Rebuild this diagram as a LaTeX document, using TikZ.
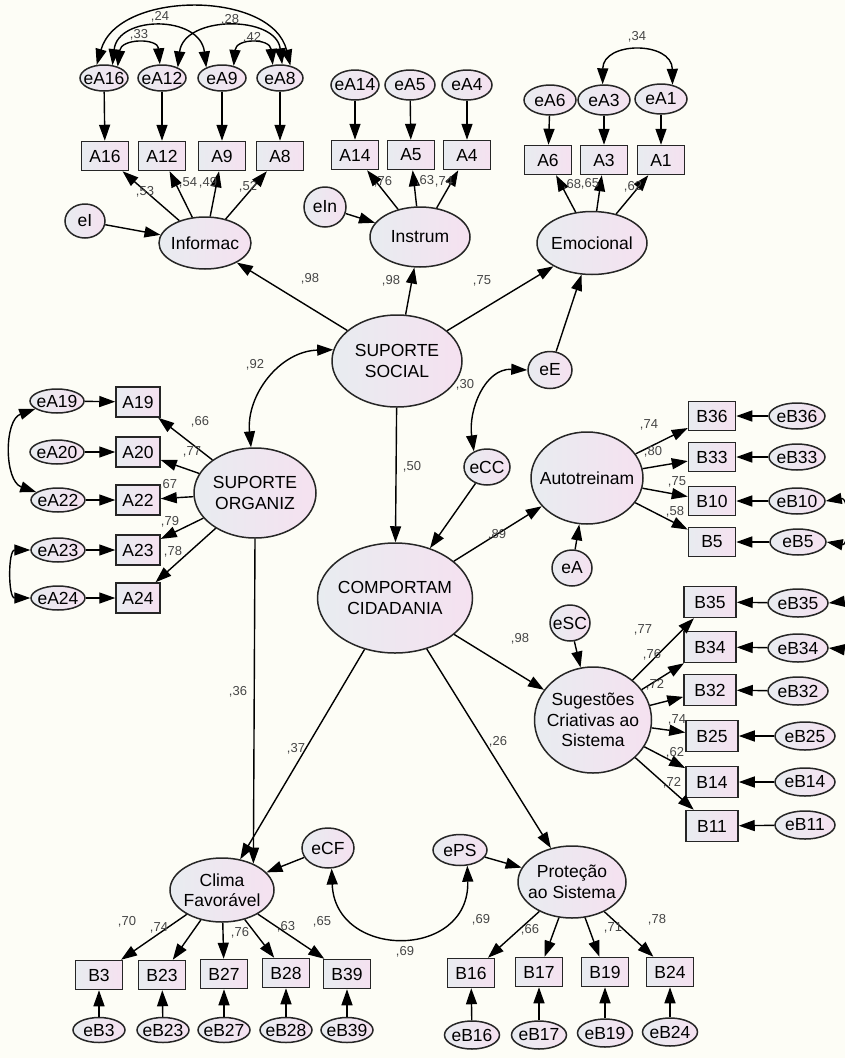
\documentclass[tikz,border=0pt]{standalone}
\usepackage{fontspec}
\setmainfont{Liberation Sans}
\usetikzlibrary{shapes.geometric,arrows.meta}
\definecolor{bgc}{RGB}{253,253,246}
\definecolor{shA}{RGB}{232,236,240}
\definecolor{shB}{RGB}{245,225,240}
\definecolor{labc}{RGB}{70,70,70}
\newcommand\nfont{\fontsize{17.5}{20.5}\selectfont}
\newcommand\lfont{\fontsize{13}{14}\selectfont}
\tikzset{
 base/.style={draw=black!85, line width=1.5pt, left color=shA, right color=shB, inner sep=0pt},
 lat/.style={base, ellipse},
 obs/.style={base, rectangle, minimum width=47pt, minimum height=29pt, font=\nfont},
 obsL/.style={obs, minimum width=44pt, minimum height=30pt},
 obsR/.style={obs, minimum width=52pt, minimum height=31pt},
 txt/.style={font=\nfont, align=center, inner sep=0pt},
 arr/.style={-{Triangle[length=16pt,width=11pt]}, line width=1.4pt},
 cov/.style={{Triangle[length=16pt,width=11pt]}-{Triangle[length=16pt,width=11pt]}, line width=1.4pt},
 lab/.style={font=\lfont, text=labc, inner sep=0pt},
}
\newcommand\mkell[5]{\node[lat,minimum width=#3pt,minimum height=#4pt] (#1) at (#2) {}; \node[txt] (#1t) at (#1.center) {#5};}
\newcommand\mkbox[4][obs]{\node[#1] (#2) at (#3) {#4};}
\newcommand\mklab[3]{\node[lab] (#1) at (#2) {#3};}
\begin{document}
\begin{tikzpicture}[x=1pt,y=-1pt]
\useasboundingbox (0,0) rectangle (845,1058);
\fill[bgc] (0,0) rectangle (845,1058);

% ---------- Informac group
\mkell{eA16}{104,78}{48}{26}{eA16}
\mkell{eA12}{162,78}{48}{26}{eA12}
\mkell{eA9}{222,78}{48}{26}{eA9}
\mkell{eA8}{280,78}{46}{26}{eA8}
\mkbox{A16}{105,156}{A16}
\mkbox{A12}{162,156}{A12}
\mkbox{A9}{222,156}{A9}
\mkbox{A8}{280,156}{A8}
\mkell{Inf}{205,243}{92}{52}{Informac}
\mkell{eI}{85,221}{40}{34}{eI}

% ---------- Instrum group
\mkell{eA14}{355,85}{48}{30}{eA14}
\mkell{eA5}{410,85}{50}{30}{eA5}
\mkell{eA4}{467,85}{50}{30}{eA4}
\mkbox{A14}{355,155}{A14}
\mkbox{A5}{411,155}{A5}
\mkbox{A4}{467,155}{A4}
\mkell{Ins}{420,237}{100}{60}{Instrum}
\mkell{eIn}{325,207}{42}{40}{eIn}

% ---------- Emocional group
\mkell{eA6}{550,100}{52}{30}{eA6}
\mkell{eA3}{604,100}{52}{30}{eA3}
\mkell{eA1}{661,99}{52}{30}{eA1}
\mkbox{A6}{548,160}{A6}
\mkbox{A3}{604,160}{A3}
\mkbox{A1}{661,160}{A1}
\mkell{Emo}{592,243}{110}{63}{Emocional}

% ---------- central latents
\mkell{SS}{397,361}{130}{92}{SUPORTE\\SOCIAL}
\mkell{SO}{255,493}{122}{90}{SUPORTE\\ORGANIZ}
\mkell{CC}{395,598}{155}{110}{COMPORTAM\\CIDADANIA}
\mkell{eE}{550,370}{44}{37}{eE}
\mkell{eCC}{487,467}{46}{36}{eCC}
\mkell{Auto}{587,478}{112}{92}{Autotreinam}
\mkell{eA}{572,568}{40}{36}{eA}
\mkell{eSC}{570,623}{40}{36}{eSC}
\mkell{Sug}{593,720}{117}{106}{Sugestões\\Criativas ao\\Sistema}
\mkell{Prot}{572,882}{108}{72}{Proteção\\ao Sistema}
\mkell{ePS}{460,850}{54}{31}{ePS}
\mkell{Clima}{222,890}{104}{64}{Clima\\Favorável}
\mkell{eCF}{328,848}{52}{40}{eCF}

% ---------- left group
\mkell{eA19}{57,401}{54}{24}{eA19}
\mkell{eA20}{57,452}{54}{24}{eA20}
\mkell{eA22}{58,500}{54}{24}{eA22}
\mkell{eA23}{58,550}{54}{24}{eA23}
\mkell{eA24}{58,598}{54}{24}{eA24}
\mkbox[obsL]{A19}{138,402}{A19}
\mkbox[obsL]{A20}{138,452}{A20}
\mkbox[obsL]{A22}{138,500}{A22}
\mkbox[obsL]{A23}{138,550}{A23}
\mkbox[obsL]{A24}{138,598}{A24}

% ---------- Autotreinam indicators
\mkbox{B36}{712,416}{B36}
\mkbox{B33}{712,457}{B33}
\mkbox{B10}{712,501}{B10}
\mkbox{B5}{712,542}{B5}
\mkell{eB36}{797,416}{56}{26}{eB36}
\mkell{eB33}{797,457}{56}{26}{eB33}
\mkell{eB10}{797,501}{56}{26}{eB10}
\mkell{eB5}{798,542}{56}{26}{eB5}

% ---------- Sugestoes indicators
\mkbox[obsR]{B35}{710,602}{B35}
\mkbox[obsR]{B34}{710,647}{B34}
\mkbox[obsR]{B32}{710,690}{B32}
\mkbox[obsR]{B25}{712,736}{B25}
\mkbox[obsR]{B14}{712,782}{B14}
\mkbox[obsR]{B11}{712,826}{B11}
\mkell{eB35}{798,603}{60}{28}{eB35}
\mkell{eB34}{798,648}{60}{28}{eB34}
\mkell{eB32}{798,691}{60}{28}{eB32}
\mkell{eB25}{805,736}{60}{28}{eB25}
\mkell{eB14}{805,782}{60}{28}{eB14}
\mkell{eB11}{805,825}{60}{28}{eB11}

% ---------- Clima indicators
\mkbox{B3}{99,975}{B3}
\mkbox{B23}{162,975}{B23}
\mkbox{B27}{224,974}{B27}
\mkbox{B28}{286,973}{B28}
\mkbox{B39}{347,974}{B39}
\mkell{eB3}{99,1030}{52}{25}{eB3}
\mkell{eB23}{163,1030}{52}{25}{eB23}
\mkell{eB27}{224,1030}{52}{25}{eB27}
\mkell{eB28}{286,1030}{52}{25}{eB28}
\mkell{eB39}{347,1030}{52}{25}{eB39}

% ---------- Protecao indicators
\mkbox{B16}{471,973}{B16}
\mkbox{B17}{539,972}{B17}
\mkbox{B19}{605,972}{B19}
\mkbox{B24}{670,972}{B24}
\mkell{eB16}{472,1035}{55}{28}{eB16}
\mkell{eB17}{539,1035}{55}{28}{eB17}
\mkell{eB19}{605,1033}{55}{28}{eB19}
\mkell{eB24}{670,1032}{55}{28}{eB24}

% ---------- arrows: errors to indicators
\foreach \e/\b in {eA16/A16,eA12/A12,eA9/A9,eA8/A8,eA14/A14,eA5/A5,eA4/A4,eA6/A6,eA3/A3,eA1/A1,
  eA19/A19,eA20/A20,eA22/A22,eA23/A23,eA24/A24,
  eB36/B36,eB33/B33,eB10/B10,eB5/B5,
  eB35/B35,eB34/B34,eB32/B32,eB25/B25,eB14/B14,eB11/B11,
  eB3/B3,eB23/B23,eB27/B27,eB28/B28,eB39/B39,
  eB16/B16,eB17/B17,eB19/B19,eB24/B24}
  \draw[arr] (\e) -- (\b);

% ---------- loadings
\foreach \b in {A16,A12,A9,A8} \draw[arr] (Inf) -- (\b);
\foreach \b in {A14,A5,A4} \draw[arr] (Ins) -- (\b);
\foreach \b in {A6,A3,A1} \draw[arr] (Emo) -- (\b);
\foreach \b in {A19,A20,A22,A23,A24} \draw[arr] (SO) -- (\b);
\foreach \b in {B36,B33,B10,B5} \draw[arr] (Auto) -- (\b);
\foreach \b in {B35,B34,B32,B25,B14,B11} \draw[arr] (Sug) -- (\b);
\foreach \b in {B3,B23,B27,B28,B39} \draw[arr] (Clima) -- (\b);
\foreach \b in {B16,B17,B19,B24} \draw[arr] (Prot) -- (\b);

% ---------- structural paths
\draw[arr] (eI) -- (Inf);
\draw[arr] (eIn) -- (Ins);
\draw[arr] (SS) -- (Inf);
\draw[arr] (SS) -- (Ins);
\draw[arr] (SS) -- (Emo);
\draw[arr] (eE) -- (Emo);
\draw[arr] (SS) -- (CC);
\draw[arr] (eCC) -- (CC);
\draw[arr] (CC) -- (Auto);
\draw[arr] (eA) -- (Auto);
\draw[arr] (CC) -- (Sug);
\draw[arr] (eSC) -- (Sug);
\draw[arr] (CC) -- (Clima);
\draw[arr] (CC) -- (Prot);
\draw[arr] (SO.south) -- (Clima.40);
\draw[arr] (eCF) -- (Clima);
\draw[arr] (ePS) -- (Prot);

% ---------- covariances
\draw[cov] (eA16.119) .. controls (118,-10) and (272,-10) .. (eA8.50);
\draw[cov] (eA16.57) .. controls (118,15) and (200,15) .. (eA9.146);
\draw[cov] (eA16.40) .. controls (121,38) and (158,38) .. (eA12.99);
\draw[cov] (eA12.34) .. controls (184,15) and (276,15) .. (eA8.81);
\draw[cov] (eA9.46) .. controls (236,38) and (270,38) .. (eA8.119);
\draw[cov] (eA3.95) .. controls (603,41) and (672,41) .. (eA1.51);
\draw[cov] (SO.95) .. controls (246,395) and (280,351) .. (SS.170);
\draw[cov] (eE.west) .. controls (485,368) and (468,410) .. (eCC.130);
\draw[cov] (eCF.-80) .. controls (335,960) and (470,960) .. (ePS.-65);
\draw[cov] (eA19.200) .. controls (4,420) and (4,481) .. (eA22.160);
\draw[cov] (eA23.west) .. controls (8,550) and (8,598) .. (eA24.west);
\draw[cov] (eB10.east) .. controls (850,497) and (850,546) .. (eB5.east);
\draw[cov] (eB35.east) .. controls (875,598) and (875,653) .. (eB34.east);

% ---------- labels
\mklab{L1}{160,17}{,24}
\mklab{L2}{230,20}{,28}
\mklab{L3}{139,35}{,33}
\mklab{L4}{252,38}{,42}
\mklab{L5}{637,37}{,34}
\mklab{L6}{145,192}{,53}
\mklab{L7}{188,183}{,54}
\mklab{L8}{208,183}{,49}
\mklab{L9}{248,187}{,52}
\mklab{L10}{383,182}{,76}
\mklab{L11}{425,181}{,63}
\mklab{L12}{444,182}{,74}
\mklab{L13}{572,185}{,68}
\mklab{L14}{590,184}{,65}
\mklab{L15}{633,187}{,62}
\mklab{L16}{310,279}{,98}
\mklab{L17}{391,281}{,98}
\mklab{L18}{482,281}{,75}
\mklab{L19}{255,365}{,92}
\mklab{L20}{465,385}{,30}
\mklab{L21}{412,467}{,50}
\mklab{L22}{497,535}{,89}
\mklab{L23}{520,639}{,98}
\mklab{L24}{238,692}{,36}
\mklab{L25}{296,749}{,37}
\mklab{L26}{498,742}{,26}
\mklab{L27}{200,422}{,66}
\mklab{L28}{192,452}{,77}
\mklab{L29}{168,485}{,67}
\mklab{L30}{170,522}{,79}
\mklab{L31}{173,552}{,78}
\mklab{L32}{649,425}{,74}
\mklab{L33}{653,452}{,80}
\mklab{L34}{677,482}{,75}
\mklab{L35}{675,512}{,58}
\mklab{L36}{643,630}{,77}
\mklab{L37}{652,655}{,76}
\mklab{L38}{655,685}{,72}
\mklab{L39}{677,720}{,74}
\mklab{L40}{675,753}{,62}
\mklab{L41}{672,783}{,72}
\mklab{L42}{127,922}{,70}
\mklab{L43}{159,928}{,74}
\mklab{L44}{240,933}{,76}
\mklab{L45}{286,927}{,63}
\mklab{L46}{322,922}{,65}
\mklab{L47}{405,952}{,69}
\mklab{L48}{481,920}{,69}
\mklab{L49}{530,930}{,66}
\mklab{L50}{613,928}{,71}
\mklab{L51}{657,920}{,78}
\end{tikzpicture}
\end{document}
